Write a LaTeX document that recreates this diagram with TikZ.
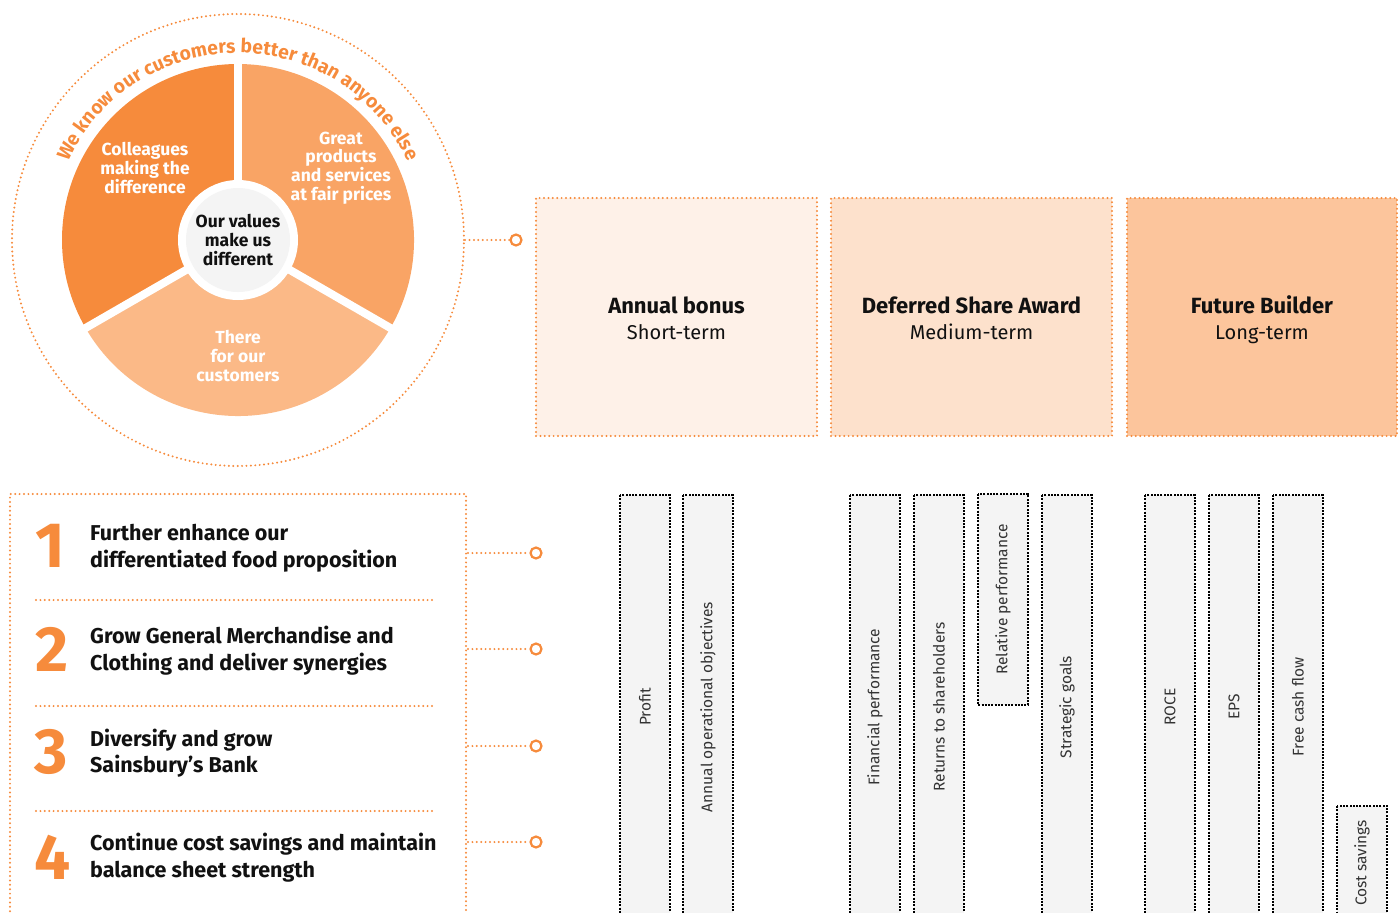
\documentclass[tikz,border=0pt]{standalone}
\usepackage{fontspec}
\setmainfont{Fira Sans}
\newcommand\lightfont{\mdseries}
\newcommand\heavyfont{\bfseries}
\usetikzlibrary{decorations.text}
\definecolor{org}{HTML}{F68B3C}
\definecolor{secL}{HTML}{F68B3C}
\definecolor{secR}{HTML}{F9A465}
\definecolor{secB}{HTML}{FBB987}
\definecolor{boxA}{HTML}{FEF1E8}
\definecolor{boxB}{HTML}{FDE1CC}
\definecolor{boxC}{HTML}{FCC59C}
\definecolor{barfill}{HTML}{F4F4F4}
\definecolor{ink}{HTML}{111111}
\definecolor{greytxt}{HTML}{333333}
\tikzset{
  orgdot/.style={draw=org, line width=2.2pt, line cap=round, dash pattern=on 0pt off 4.4pt},
  termbox/.style={rectangle, orgdot, minimum height=238, inner sep=0pt, align=center, text=ink, font=\fontsize{20}{26}\selectfont},
  barbox/.style={rectangle, draw=black, fill=barfill, line width=2.4pt, dash pattern=on 2pt off 1.3pt, rotate=90, minimum height=50, inner sep=0pt, text=greytxt, font=\lightfont\fontsize{15.5}{18}\selectfont},
  marker/.style={circle, draw=org, line width=2.2pt, fill=white, minimum size=11, inner sep=0pt},
  bignum/.style={text=org, font=\heavyfont\fontsize{64}{64}\selectfont, inner sep=0pt},
  itemtxt/.style={text=ink, align=left, inner sep=0pt, font=\heavyfont\fontsize{21.5}{27}\selectfont},
  sectxt/.style={text=white, align=center, inner sep=0pt, font=\bfseries\fontsize{17.5}{18.7}\selectfont}
}
\begin{document}
\begin{tikzpicture}[x=1pt,y=1pt]
\useasboundingbox (0,0) rectangle (1398,-913);
% ---- pie ----
\coordinate (C) at (238,-240);
\fill[secL] (C) -- ++(90:176) arc (90:210:176) -- cycle;
\fill[secR] (C) -- ++(-30:176) arc (-30:90:176) -- cycle;
\fill[secB] (C) -- ++(210:176) arc (210:330:176) -- cycle;
\foreach \a in {90,210,330} \draw[white, line width=8pt] (C) -- ++(\a:180);
\fill[white] (C) circle (60);
\node[circle, fill=barfill, minimum size=104, inner sep=0pt, align=center, text=ink, font=\heavyfont\fontsize{17.5}{18.7}\selectfont] (values) at (C) {Our values\\make us\\different};
\node[sectxt] (colleagues) at (145,-168) {Colleagues\\making the\\difference};
\node[sectxt] (great) at (341,-168) {Great\\products\\and services\\at fair prices};
\node[sectxt] (there) at (238,-356) {There\\for our\\customers};
\node[circle, orgdot, minimum size=452, inner sep=0pt] (outer) at (C) {};
\path[decorate, decoration={text along path, text align=center,
  text={|\heavyfont\fontsize{19.3}{20}\selectfont\color{org}|We know our customers better than anyone else}}]
  ([shift={(238,-240)}]158:187) arc (158:22:187);
\node[marker] (m0) at (516,-240) {};
\draw[orgdot] (outer.east) -- (m0.west);
% ---- top boxes ----
\node[termbox, fill=boxA, minimum width=281] (annual) at (676.5,-317) {};
\node[termbox, fill=boxB, minimum width=281] (deferred) at (971.5,-317) {};
\node[termbox, fill=boxC, minimum width=270] (future) at (1262,-317) {};
\foreach \b/\x/\t/\s in {annual/676.5/Annual bonus/Short-term, deferred/971.5/Deferred Share Award/Medium-term, future/1262/Future Builder/Long-term}{
  \node[anchor=base, inner sep=0pt, text=ink, font=\heavyfont\fontsize{22}{26}\selectfont] (\b-t) at (\x,-313) {\t};
  \node[anchor=base, inner sep=0pt, text=ink, font=\lightfont\fontsize{20}{26}\selectfont] (\b-s) at (\x,-339) {\s};
}
% ---- left panel ----
\draw[orgdot] (10,-920) -- (10,-494) -- (466,-494) -- (466,-920);
\foreach \yy in {600,706,811} \draw[orgdot] (36,-\yy) -- (436,-\yy);
\node[bignum, anchor=base] (n1) at (50,-567) {1};
\node[bignum, anchor=base] (n2) at (52,-671) {2};
\node[bignum, anchor=base] (n3) at (51,-773) {3};
\node[bignum, anchor=base] (n4) at (53,-879) {4};
\node[itemtxt, anchor=base west] (t1a) at (90,-540) {Further enhance our};
\node[itemtxt, anchor=base west] (t1b) at (90,-567) {differentiated food proposition};
\node[itemtxt, anchor=base west] (t2a) at (90,-643) {Grow General Merchandise and};
\node[itemtxt, anchor=base west] (t2b) at (90,-670) {Clothing and deliver synergies};
\node[itemtxt, anchor=base west] (t3a) at (90,-746) {Diversify and grow};
\node[itemtxt, anchor=base west] (t3b) at (90,-772) {Sainsbury’s Bank};
\node[itemtxt, anchor=base west] (t4a) at (90,-850) {Continue cost savings and maintain};
\node[itemtxt, anchor=base west] (t4b) at (90,-877) {balance sheet strength};
\foreach \i/\yy in {1/553,2/649,3/746,4/842}{
  \coordinate (p\i) at (468,-\yy);
  \node[marker] (m\i) at (536,-\yy) {};
  \draw[orgdot] (p\i) -- (m\i.west);
}
% ---- bars ----
\node[barbox, minimum width=424] (profit) at (645,-707) {Profit};
\node[barbox, minimum width=424] (aoo) at (708,-707) {Annual operational objectives};
\node[barbox, minimum width=424] (finperf) at (875,-707) {Financial performance};
\node[barbox, minimum width=424] (returns) at (939,-707) {Returns to shareholders};
\node[barbox, minimum width=211] (relperf) at (1003,-599.5) {Relative performance};
\node[barbox, minimum width=424] (strat) at (1067,-707) {Strategic goals};
\node[barbox, minimum width=424] (roce) at (1170,-707) {ROCE};
\node[barbox, minimum width=424] (eps) at (1234,-707) {EPS};
\node[barbox, minimum width=424] (fcf) at (1298,-707) {Free cash flow};
\node[barbox, minimum width=114] (cost) at (1362,-863) {Cost savings};
\end{tikzpicture}
\end{document}
